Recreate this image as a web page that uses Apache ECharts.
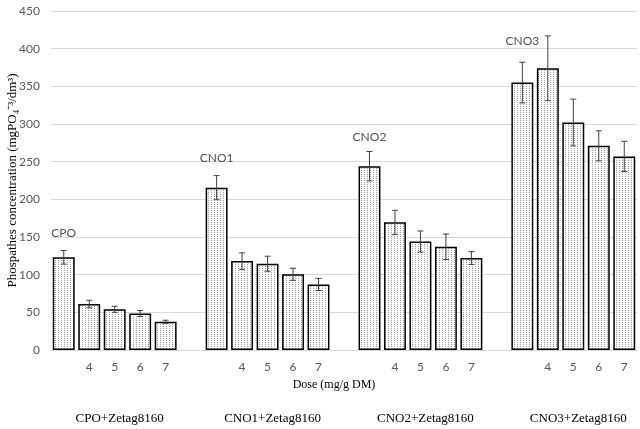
<!DOCTYPE html>
<html>
<head>
<meta charset="utf-8">
<script src="https://cdn.jsdelivr.net/npm/echarts@6/dist/echarts.min.js"></script>
<style>html,body{margin:0;padding:0;background:#fff;}#c{width:640px;height:429px;}</style>
</head>
<body>
<div id="c"></div>
<script>
// ---- data ----
const groupNames = ['CPO', 'CNO1', 'CNO2', 'CNO3'];
const groupLabels = ['CPO+Zetag8160', 'CNO1+Zetag8160', 'CNO2+Zetag8160', 'CNO3+Zetag8160'];
const doseLabels = ['', '4', '5', '6', '7'];
const cpo = [123, 61, 54, 48.5, 37.5];
const cpoErr = [9, 5, 4, 4, 2];
const cno1 = [215.5, 118, 114.5, 100.5, 87];
const cno1Err = [16, 11, 10, 8, 8];
const cno2 = [244, 169.5, 144, 137, 122];
const cno2Err = [19.5, 16, 14, 17, 8.5];
const cno3 = [355, 374, 302, 271, 257];
const cno3Err = [27, 43, 31, 20, 20];
const nameLabelY = [155, 255, 283, 410];
const yTicks = { min: 0, max: 450, interval: 50 };

// ---- build category layout: 5 bars per group, an empty slot between groups ----
const groupValues = [cpo, cno1, cno2, cno3];
const groupErrs = [cpoErr, cno1Err, cno2Err, cno3Err];
const categories = [];
const groupAxisLabels = [];
const barData = [];
const errData = [];
const nameData = [];
groupValues.forEach((vals, g) => {
  vals.forEach((v, i) => {
    const idx = categories.length;
    categories.push(doseLabels[i]);
    groupAxisLabels.push(i === 2 ? groupLabels[g] : '');
    barData.push(v);
    errData.push([idx, v - groupErrs[g][i], v + groupErrs[g][i]]);
    if (i === 0) nameData.push({ value: [idx, nameLabelY[g]], name: groupNames[g] });
  });
  if (g < groupValues.length - 1) {
    categories.push(' ');
    groupAxisLabels.push('');
    barData.push(null);
  }
});

// dotted fill pattern
const pat = document.createElement('canvas');
pat.width = 3; pat.height = 2;
const pc = pat.getContext('2d');
pc.fillStyle = '#ffffff'; pc.fillRect(0, 0, 3, 2);
pc.fillStyle = '#9a9a9a'; pc.fillRect(1, 0, 1, 1);

const chart = echarts.init(document.getElementById('c'), null, { renderer: 'canvas' });
chart.setOption({
  animation: false,
  backgroundColor: '#ffffff',
  grid: { left: 51, right: 3, top: 11, bottom: 79, containLabel: false, outerBoundsMode: 'none' },
  xAxis: [{
    type: 'category',
    data: categories,
    axisLine: { lineStyle: { color: '#d9d9d9', width: 1 } },
    axisTick: { show: false },
    axisLabel: { interval: 0, color: '#595959', fontFamily: 'Lato', fontSize: 12, margin: 11 },
    name: 'Dose (mg/g DM)',
    nameLocation: 'middle',
    nameGap: 29,
    nameMoveOverlap: false,
    nameTextStyle: { fontFamily: 'Liberation Serif', fontSize: 12, color: '#000', padding: [0, 20, 0, 0] }
  }, {
    type: 'category',
    position: 'bottom',
    data: groupAxisLabels,
    axisLine: { show: false },
    axisTick: { show: false },
    axisLabel: { interval: 0, color: '#000', fontFamily: 'Liberation Serif', fontSize: 13, margin: 62, padding: [0, 0, 0, 10] }
  }],
  yAxis: {
    type: 'value',
    min: yTicks.min, max: yTicks.max, interval: yTicks.interval,
    axisLine: { show: false },
    axisTick: { show: false },
    splitLine: { lineStyle: { color: '#d9d9d9', width: 1 } },
    axisLabel: { color: '#595959', fontFamily: 'Lato', fontSize: 12, margin: 11 },
    name: 'Phospathes concentration (mgPO\u2084\u207B\u00B3/dm\u00B3)',
    nameLocation: 'middle',
    nameGap: 32,
    nameMoveOverlap: false,
    nameTextStyle: { fontFamily: 'Liberation Serif', fontSize: 13, color: '#000' }
  },
  series: [{
    type: 'bar',
    data: barData,
    barCategoryGap: '14%',
    itemStyle: { color: { image: pat, repeat: 'repeat' }, borderColor: '#000', borderWidth: 1.5 },
    silent: true
  }, {
    type: 'custom',
    data: errData,
    z: 5,
    renderItem: function (params, api) {
      const x = api.value(0);
      const lo = api.coord([x, api.value(1)]);
      const hi = api.coord([x, api.value(2)]);
      const hw = 3;
      const style = { stroke: '#404040', lineWidth: 1 };
      return {
        type: 'group',
        children: [
          { type: 'line', shape: { x1: lo[0], y1: lo[1], x2: hi[0], y2: hi[1] }, style: style },
          { type: 'line', shape: { x1: hi[0] - hw, y1: hi[1], x2: hi[0] + hw, y2: hi[1] }, style: style },
          { type: 'line', shape: { x1: lo[0] - hw, y1: lo[1], x2: lo[0] + hw, y2: lo[1] }, style: style }
        ]
      };
    }
  }, {
    type: 'scatter',
    data: nameData,
    symbolSize: 1,
    itemStyle: { color: 'rgba(0,0,0,0)' },
    label: {
      show: true, position: 'inside', formatter: '{b}',
      fontFamily: 'Lato', fontSize: 12, color: '#262626'
    }
  }]
});
</script>
</body>
</html>
